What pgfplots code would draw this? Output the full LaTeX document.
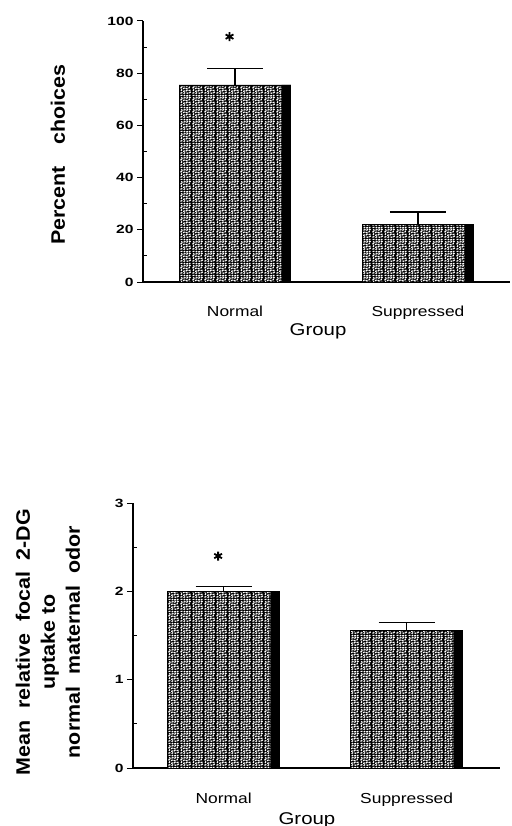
\documentclass[border=0pt]{standalone}
\usepackage{fontspec}
\setmainfont{Liberation Sans}
\usepackage{pgfplots}
\pgfplotsset{compat=1.18}
\usetikzlibrary{patterns}
\newfontfamily\tickf[FakeStretch=1.3]{Liberation Sans}
\newfontfamily\catf[FakeStretch=1.2]{Liberation Sans}
\newfontfamily\labf[FakeStretch=1.1]{Liberation Sans}

\newcommand\seg[4]{\pgfpathmoveto{\pgfqpoint{#1pt}{#2pt}}\pgfpathlineto{\pgfqpoint{#3pt}{#4pt}}}
\pgfdeclarepatternformonly{speckle}{\pgfpointorigin}{\pgfqpoint{12pt}{12pt}}{\pgfqpoint{12pt}{12pt}}{%
  \pgfsetlinewidth{1.3pt}%
  \seg{0.5}{0.8}{2.6}{1.6}\seg{3.8}{0.4}{5.6}{1.5}\seg{7.0}{1.2}{9.0}{0.6}\seg{10.0}{1.0}{11.6}{2.4}%
  \seg{1.2}{3.2}{2.0}{5.0}\seg{3.4}{2.8}{5.6}{3.4}\seg{6.6}{3.0}{8.0}{4.6}\seg{9.2}{3.6}{11.4}{4.2}%
  \seg{0.4}{6.4}{2.4}{7.0}\seg{3.6}{5.4}{5.0}{6.8}\seg{6.0}{6.2}{8.2}{5.8}\seg{9.4}{6.0}{10.4}{7.8}%
  \seg{1.0}{9.0}{2.8}{8.2}\seg{3.8}{8.4}{6.0}{9.2}\seg{7.0}{8.0}{8.4}{9.6}\seg{9.6}{9.4}{11.6}{9.0}%
  \seg{0.6}{11.2}{2.6}{11.6}\seg{4.0}{10.6}{5.4}{11.8}\seg{6.6}{10.8}{8.8}{11.4}\seg{10.0}{11.0}{11.2}{11.8}%
  \pgfusepath{stroke}%
}

\pgfplotsset{
  panel/.style={
    scale only axis, width=367pt,
    axis x line*=bottom, axis y line*=left,
    axis line style={line width=1.2pt, black},
    xtick={0,1}, xticklabels={Normal,Suppressed},
    x tick style={draw=none},
    xticklabel style={anchor=base, yshift=-28pt, font=\catf\fontsize{14.5}{15}\selectfont},
    yticklabel style={font=\tickf\bfseries\fontsize{12}{13}\selectfont},
    /pgf/number format/assume math mode=true,
    minor y tick num=1,
    tick align=outside,
    major tick length=6pt, minor tick length=3pt,
    y tick style={line width=1pt, black},
    minor y tick style={xshift=4pt},
    xlabel={Group},
    xlabel style={font=\catf\fontsize{17}{18}\selectfont, anchor=base},
    ylabel style={anchor=center, align=center, font=\labf\bfseries\fontsize{19.5}{25}\selectfont},
    clip=false,
  },
  mainbar/.style={ybar, bar shift=0, bar width=0.61, fill=black, draw=black, line width=0.8pt,
    postaction={pattern=speckle, pattern color=white}},
  stripe/.style={ybar, bar shift=0.28, bar width=0.05, fill=black, draw=none},
  errs/.style={error bars/.cd, y dir=plus, y explicit,
    error bar style={line width=1.4pt, black},
    error mark=|,
    error mark options={line width=1.4pt, mark size=28pt, black}},
}

\begin{document}
\begin{tikzpicture}
\useasboundingbox (0,0) rectangle (511pt,-826pt);

\begin{axis}[panel, at={(143pt,-282pt)}, anchor=south west,
  height=261pt, xmin=-0.503, xmax=1.503, ymin=0, ymax=100,
  ytick={0,20,40,60,80,100},
  xlabel style={at={(axis description cs:0.477,0)}, yshift=-53pt},
  ylabel={Percent\hspace{1.1em}choices},
  ylabel style={at={(axis description cs:-0.232,0.487)}},
]
\addplot[mainbar, errs] coordinates {(0,75.5) +- (0,6.3) (1,22.2) +- (0,4.6)};
\addplot[stripe] coordinates {(0,75.5) (1,22.2)};
\addplot[only marks, mark=asterisk, mark size=4.5pt, line width=1.8pt, black] coordinates {(-0.03,94)};
\end{axis}

\begin{axis}[panel, at={(133pt,-768pt)}, anchor=south west,
  height=265pt, xmin=-0.495, xmax=1.51, ymin=0, ymax=3,
  ytick={0,1,2,3},
  xticklabel style={yshift=-1pt},
  xlabel style={at={(axis description cs:0.474,0)}, yshift=-56pt},
  ylabel={Mean\hspace{0.6em}relative\hspace{0.6em}focal\hspace{0.6em}2-DG\\uptake to\\normal\hspace{0.6em}maternal\hspace{0.6em}odor},
  ylabel style={at={(axis description cs:-0.2316,0.475)}},
]
\addplot[mainbar, errs] coordinates {(0,2.0) +- (0,0.055) (1,1.56) +- (0,0.09)};
\addplot[stripe] coordinates {(0,2.0) (1,1.56)};
\addplot[only marks, mark=asterisk, mark size=4.5pt, line width=1.8pt, black] coordinates {(-0.03,2.4)};
\end{axis}
\end{tikzpicture}
\end{document}
